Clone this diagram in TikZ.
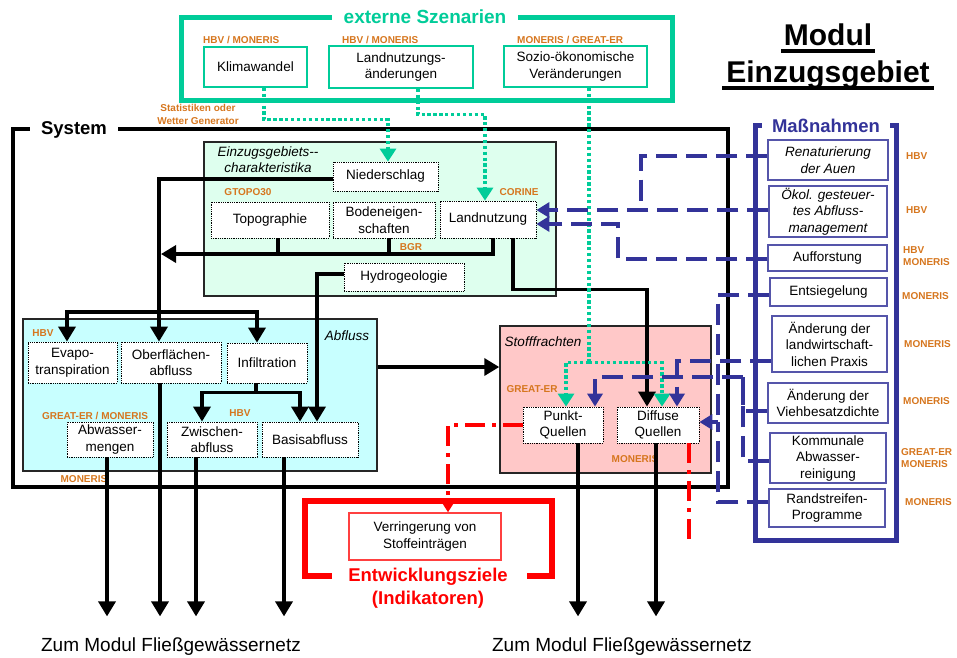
\documentclass[tikz,border=0pt]{standalone}
\usepackage{fontspec}
\setmainfont{Liberation Sans}
\usetikzlibrary{arrows.meta}

\definecolor{szgreen}{RGB}{0,204,153}
\definecolor{lblorange}{RGB}{214,118,30}
\definecolor{mblue}{RGB}{51,51,153}
\definecolor{mbluebox}{RGB}{85,85,170}
\definecolor{ezgfill}{RGB}{222,255,238}
\definecolor{abffill}{RGB}{200,255,255}
\definecolor{stofill}{RGB}{255,200,200}
\definecolor{zielred}{RGB}{255,0,0}

\begin{document}
\begin{tikzpicture}[x=1pt,y=-1pt,
  sz/.style 2 args={minimum width=#1pt, minimum height=#2pt},
  boxtxt/.style={font=\fontsize{13.5pt}{16.5pt}\selectfont, align=center, inner sep=0pt},
  dbox/.style={boxtxt, draw=black, densely dotted, line width=0.8pt, fill=white},
  gbox/.style={boxtxt, draw=szgreen, line width=1.6pt, fill=white},
  mbox/.style={boxtxt, draw=mbluebox, line width=1.4pt, fill=white},
  rbox/.style={boxtxt, draw=zielred!75, line width=1.4pt, fill=white},
  bigbox/.style={draw=black!85, line width=1.5pt},
  area/.style={font=\fontsize{13.5pt}{16pt}\selectfont\itshape, align=center, inner sep=0pt},
  olbl/.style={font=\fontsize{10pt}{12.5pt}\selectfont\bfseries, text=lblorange, align=left, inner sep=0pt},
  head/.style={font=\fontsize{18.5pt}{23pt}\selectfont\bfseries, align=center, inner xsep=10pt, inner ysep=2pt, fill=white},
  blk/.style={draw=black, line width=3.5pt},
  bt/.style={-{Triangle[width=17pt,length=15pt]}},
  gdot/.style={draw=szgreen, line width=3.3pt, dash pattern=on 3.3pt off 2.6pt},
  gt/.style={-{Triangle[width=16pt,length=13pt]}},
  bdash/.style={draw=mblue, line width=3.8pt, dash pattern=on 21pt off 9pt},
  bt2/.style={-{Triangle[width=15pt,length=13pt]}},
  rdd/.style={draw=zielred, line width=3.5pt, dash pattern=on 20pt off 7pt on 4pt off 7pt},
  rt/.style={-{Triangle[width=13pt,length=11pt]}},
]
\useasboundingbox (0,0) rectangle (957,657);

% ---------- title ----------
\node[font=\fontsize{30pt}{36pt}\selectfont\bfseries, anchor=base, inner sep=0pt] (tmod) at (828,45) {Modul};
\node[font=\fontsize{30pt}{36pt}\selectfont\bfseries, anchor=base, inner sep=0pt] (tezg) at (828,82) {Einzugsgebiet};
\draw[line width=3.5pt] (781,51) -- (875,51);
\draw[line width=3.5pt] (722,88) -- (934,88);

% ---------- frames ----------
\draw[szgreen, line width=5pt] (181,17) rectangle (672,100);
\node[head, text=szgreen, font=\fontsize{19pt}{23pt}\selectfont\bfseries, inner xsep=12pt] (szen) at (425,17) {externe Szenarien};

\draw[black, line width=4.5pt] (13,129) rectangle (728,487);
\node[head, inner xsep=11pt] (sys) at (74,130) {System};

\draw[mblue, line width=5pt] (755,125) rectangle (896,540);
\node[head, text=mblue] (mass) at (826,126) {Maßnahmen};

\draw[zielred, line width=6pt, line join=miter] (332,576) -- (305,576) -- (305,501) -- (552,501) -- (552,576) -- (527,576);
\node[font=\fontsize{18.5pt}{23pt}\selectfont\bfseries, text=zielred, align=center, inner sep=0pt] (ziel) at (428,588) {Entwicklungsziele\\(Indikatoren)};

% ---------- large areas ----------
\node[bigbox, fill=ezgfill, sz={352}{154}] (ezg) at (380,219) {};
\node[bigbox, fill=abffill, sz={354}{152}] (abfluss) at (200,395) {};
\node[bigbox, fill=stofill, sz={211}{147}] (stoff) at (605.5,399.5) {};

\node[area] (ezgtitle) at (268,160) {Einzugsgebiets-{}-\\charakteristika};
\node[area] (abftitle) at (347,336) {Abfluss};
\node[area] (stotitle) at (543,342) {Stofffrachten};

% ---------- model labels ----------
\node[olbl, anchor=west] at (203,40) {HBV / MONERIS};
\node[olbl, anchor=west] at (342,40) {HBV / MONERIS};
\node[olbl, anchor=west] at (517,40) {MONERIS / GREAT-ER};
\node[olbl, align=center, font=\fontsize{10pt}{13pt}\selectfont\bfseries] at (198,114.5) {Statistiken oder\\Wetter Generator};
\node[olbl] at (248,192) {GTOPO30};
\node[olbl] at (519,192) {CORINE};
\node[olbl] at (411,247) {BGR};
\node[olbl] at (43,333) {HBV};
\node[olbl] at (95,416) {GREAT-ER / MONERIS};
\node[olbl] at (240,413) {HBV};
\node[olbl] at (84,479) {MONERIS};
\node[olbl] at (532,389) {GREAT-ER};
\node[olbl] at (635,459) {MONERIS};
\node[olbl, anchor=west] at (906,156) {HBV};
\node[olbl, anchor=west] at (906,210) {HBV};
\node[olbl, anchor=west] at (903,256) {HBV\\MONERIS};
\node[olbl, anchor=west] at (902,296) {MONERIS};
\node[olbl, anchor=west] at (904,344) {MONERIS};
\node[olbl, anchor=west] at (903,401) {MONERIS};
\node[olbl, anchor=west] at (901,458) {GREAT-ER\\MONERIS};
\node[olbl, anchor=west] at (905,502) {MONERIS};

% ---------- scenario boxes ----------
\node[gbox, sz={103}{40}] (klima) at (255.5,67) {Klimawandel};
\node[gbox, sz={144}{42}] (landaend) at (401,67) {Landnutzungs-\\änderungen};
\node[gbox, sz={143}{41}] (sozio) at (575.5,66.5) {Sozio-ökonomische\\Veränderungen};

% ---------- catchment characteristics ----------
\node[dbox, sz={105}{29}] (nieder) at (385.5,176.5) {Niederschlag};
\node[dbox, sz={118}{36}] (topo) at (270,220) {Topographie};
\node[dbox, sz={102}{36}] (boden) at (384,220) {Bodeneigen-\\schaften};
\node[dbox, sz={96}{37}] (landn) at (488,219.5) {Landnutzung};
\node[dbox, sz={120}{28}] (hydro) at (404,277) {Hydrogeologie};

% ---------- runoff ----------
\node[dbox, sz={89}{41}] (evapo) at (72.5,362.5) {Evapo-\\transpiration};
\node[dbox, sz={100}{41}] (ober) at (171,362.5) {Oberflächen-\\abfluss};
\node[dbox, sz={80}{40}] (infil) at (267,363) {Infiltration};
\node[dbox, sz={86}{35}] (abw) at (110,439.5) {Abwasser-\\mengen};
\node[dbox, sz={90}{35}] (zwi) at (212,439.5) {Zwischen-\\abfluss};
\node[dbox, sz={96}{35}] (basis) at (310,439.5) {Basisabfluss};

% ---------- loads ----------
\node[dbox, sz={80}{36}] (punkt) at (563,425) {Punkt-\\Quellen};
\node[dbox, sz={82}{36}] (diffus) at (658,425) {Diffuse\\Quellen};

% ---------- goal ----------
\node[rbox, sz={152}{47}] (verr) at (425,536.5) {Verringerung von\\Stoffeinträgen};

% ---------- measures ----------
\node[mbox, sz={120}{40}, font=\fontsize{13.5pt}{16.5pt}\selectfont\itshape] (renat) at (828,160) {Renaturierung\\der Auen};
\node[mbox, sz={118}{51}, font=\fontsize{13.5pt}{16.5pt}\selectfont\itshape] (oekol) at (828,211.5) {Ökol. gesteuer-\\tes Abfluss-\\management};
\node[mbox, sz={119}{26}] (auff) at (827.5,258) {Aufforstung};
\node[mbox, sz={117}{28}] (entsieg) at (828.5,292) {Entsiegelung};
\node[mbox, sz={115}{56}] (landw) at (829.5,344) {Änderung der\\landwirtschaft-\\lichen Praxis};
\node[mbox, sz={120}{40}] (vieh) at (828,403) {Änderung der\\Viehbesatzdichte};
\node[mbox, sz={116}{50}] (komm) at (828,458) {Kommunale\\Abwasser-\\reinigung};
\node[mbox, sz={116}{38}] (rand) at (827,508) {Randstreifen-\\Programme};

% ---------- outlet labels ----------
\node[font=\fontsize{19pt}{23pt}\selectfont, anchor=base, inner sep=0pt] (zum1) at (171,651) {Zum Modul Fließgewässernetz};
\node[font=\fontsize{19pt}{23pt}\selectfont, anchor=base, inner sep=0pt] (zum2) at (622,651) {Zum Modul Fließgewässernetz};

% ---------- junction points ----------
\coordinate (split) at (159,312);
\coordinate (busend) at (161,254);
\coordinate (bj1) at (641,210);
\coordinate (bj2) at (618,224);
\coordinate (bj3) at (718,422);
\coordinate (bj4) at (743,377);
\coordinate (rend) at (689,540);

% ---------- black flows ----------
\draw[blk, bt] ([yshift=-2.5pt]nieder.west) -| ([xshift=-12pt]ober.north);
\draw[blk, bt] (split) -| ([xshift=-5.5pt]evapo.north);
\draw[blk, bt] (split) -| ([xshift=-10pt]infil.north);
\draw[blk, bt] ([xshift=5pt]landn.south) |- (busend);
\draw[blk] ([xshift=8pt]topo.south) -- ++(0,16);
\draw[blk] ([xshift=5pt]boden.south) -- ++(0,16);
\draw[blk, bt] ([xshift=25pt]landn.south) -- ++(0,51) -| ([xshift=-11pt]diffus.north);
\draw[blk, bt] ([yshift=3pt]hydro.west) -| ([xshift=7pt]basis.north);
\draw[blk] ([xshift=-11pt]infil.south) -- ++(0,9) coordinate (isplit);
\draw[blk, bt] (isplit) -| ([xshift=-10pt]zwi.north);
\draw[blk, bt] (isplit) -| ([xshift=-10pt]basis.north);
\draw[blk, bt] ([yshift=28pt]abfluss.east) -- ([yshift=32.5pt]stoff.west);

\draw[blk, bt] ([xshift=-3pt]abw.south) -- ++(0,159);
\draw[blk, bt] ([xshift=-11pt]ober.south) -- ++(0,233);
\draw[blk, bt] ([xshift=-16pt]zwi.south) -- ++(0,159);
\draw[blk, bt] ([xshift=-26pt]basis.south) -- ++(0,159);
\draw[blk, bt] ([xshift=15pt]punkt.south) -- ++(0,173);
\draw[blk, bt] ([xshift=-2pt]diffus.south) -- ++(0,173);

% ---------- scenario links ----------
\draw[gdot, gt] ([xshift=8.5pt]klima.south) -- ++(0,32) -| ([xshift=2.5pt]nieder.north);
\draw[gdot, gt] ([xshift=17pt]landaend.south) -- ++(0,26) -| ([xshift=-3pt]landn.north);
\draw[gdot] ([xshift=13.5pt]sozio.south) -- ++(0,275) coordinate (gsplit);
\draw[gdot, gt] (gsplit) -| ([xshift=3pt]punkt.north);
\draw[gdot, gt] (gsplit) -| ([xshift=4pt]diffus.north);

% ---------- measure links ----------
\draw[bdash] ([yshift=4pt]renat.west) -| (bj1);
\draw[bdash, bt2] ([yshift=1.5pt]oekol.west) -- ([yshift=9.5pt]landn.east);
\draw[bdash, bt2] ([yshift=-1pt]auff.west) -| (bj2) -- ([yshift=-4.5pt]landn.east);
\draw[bdash] ([yshift=-3pt]entsieg.west) -| (bj3);
\draw[bdash] ([yshift=6pt]rand.west) -| (bj3);
\draw[bdash, bt2] (bj3) -- ([yshift=3pt]diffus.east);
\draw[bdash, bt2] ([yshift=-17pt]landw.west) -| ([xshift=19pt]diffus.north);
\draw[bdash] ([yshift=-8pt]vieh.west) -| (bj4);
\draw[bdash] ([yshift=-3pt]komm.west) -| (bj4);
\draw[bdash, bt2] (bj4) -| ([xshift=32pt]punkt.north);

% ---------- goal links ----------
\draw[rdd, rt] (punkt.west) -| ([xshift=23pt]verr.north);
\draw[rdd] ([xshift=31pt]diffus.south) -- (rend);

\end{tikzpicture}
\end{document}
